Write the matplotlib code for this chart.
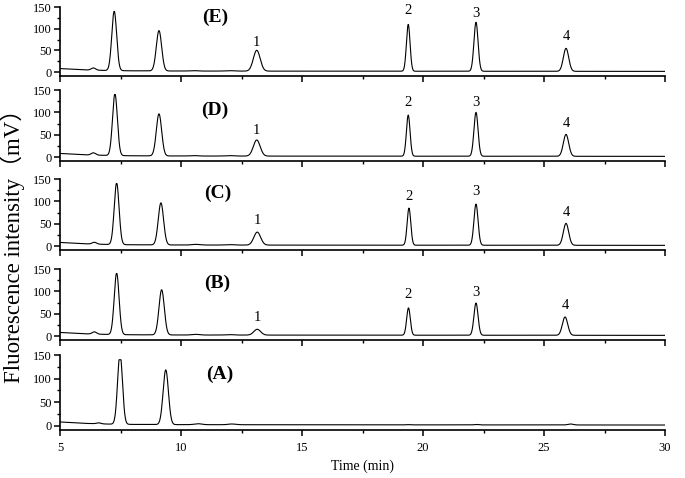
import matplotlib.pyplot as plt
import numpy as np
from matplotlib.ticker import MultipleLocator

plt.rcParams['font.family'] = ['Liberation Serif', 'Noto Sans CJK SC']

# 패널 이름 (위에서 아래로)
panel_names = ["(E)", "(D)", "(C)", "(B)", "(A)"]

# 피크 머무름 시간 (min): 작은피크, 주피크1, 주피크2, 잡음, 잡음, 1, 2, 3, 4
times_E = [6.38, 7.24, 9.09, 10.5, 12.0, 13.13, 19.39, 22.19, 25.91]
times_D = [6.38, 7.27, 9.09, 10.5, 12.0, 13.13, 19.39, 22.19, 25.91]
times_C = [6.42, 7.34, 9.17, 10.6, 12.0, 13.15, 19.42, 22.19, 25.91]
times_B = [6.42, 7.34, 9.20, 10.6, 12.0, 13.15, 19.40, 22.19, 25.87]
times_A = [6.60, 7.48, 9.37, 10.7, 12.1, 13.15, 19.40, 22.20, 26.10]

# 피크 높이 (mV, 기준선 위)
heights_E = [5, 137, 93, 1.0, 1.0, 48, 108, 113, 53]
heights_D = [5, 138, 94, 1.0, 1.0, 36, 92, 98, 49]
heights_C = [4, 138, 94, 1.5, 1.0, 29, 83, 92, 49]
heights_B = [5, 138, 101, 1.5, 1.0, 13, 61, 72, 41]
heights_A = [2, 150, 116, 2.0, 1.5, 0, 0.5, 1.0, 2.0]

# 피크 폭 (sigma, min)
widths = [0.09, 0.10, 0.11, 0.15, 0.15, 0.14, 0.075, 0.085, 0.11]

# 기준선 (드리프트)
base_t = [5, 5.5, 6, 7, 8, 10, 15, 30]
base_v = [8, 6.5, 5, 3.5, 2.8, 2.3, 2.0, 1.5]

# 피크 번호 라벨 높이
label_y_E = [69, 143, 136, 81]
label_y_D = [60, 121, 123, 74]
label_y_C = [58, 110, 123, 74]
label_y_B = [42, 92, 98, 69]
label_y_A = None

peak_numbers = ["1", "2", "3", "4"]
name_xy = [(11.4, 125), (11.4, 105), (11.5, 118), (11.5, 118), (11.6, 108)]

saturation = 140  # 검출기 포화

all_times = [times_E, times_D, times_C, times_B, times_A]
all_heights = [heights_E, heights_D, heights_C, heights_B, heights_A]
all_labels = [label_y_E, label_y_D, label_y_C, label_y_B, label_y_A]

t = np.linspace(5, 30, 3001)

fig = plt.figure(figsize=(6.85, 4.78), dpi=100)
W, H = 685, 478
left_px, right_px = 60, 665
# 각 패널 (상단, 하단) 픽셀
rows_px = [(7, 75.5), (90, 160.6), (179, 249.6), (269, 339.6), (355, 429.5)]

for i, (top, bot) in enumerate(rows_px):
    ax = fig.add_axes([left_px / W, 1 - bot / H, (right_px - left_px) / W, (bot - top) / H])
    y = np.interp(t, base_t, base_v)
    for tc, h, w in zip(all_times[i], all_heights[i], widths):
        y = y + h * np.exp(-0.5 * ((t - tc) / w) ** 2)
    y = np.minimum(y, saturation)
    ax.plot(t, y, color="black", linewidth=0.8)

    ax.set_xlim(5, 30)
    ax.set_ylim(-8, 150)
    ax.set_yticks([0, 50, 100, 150])
    ax.yaxis.set_minor_locator(MultipleLocator(25))
    ax.set_xticks([5, 10, 15, 20, 25, 30])
    ax.xaxis.set_minor_locator(MultipleLocator(2.5))
    ax.spines["top"].set_visible(False)
    ax.spines["right"].set_visible(False)
    ax.spines["left"].set_linewidth(1.2)
    ax.spines["bottom"].set_linewidth(1.2)
    ax.tick_params(which="major", direction="out", length=4, width=1.1, labelsize=9, pad=2)
    ax.tick_params(which="minor", direction="out", length=2.5, width=1.0)
    if i < 4:
        ax.tick_params(axis="x", labelbottom=False)
    else:
        ax.tick_params(axis="x", pad=5)
        ax.set_xlabel("Time (min)", fontsize=10, labelpad=4)

    ax.text(name_xy[i][0], name_xy[i][1], panel_names[i], fontsize=14,
            fontweight="bold", ha="center", va="center")

    if all_labels[i] is not None:
        for num, tc, ly in zip(peak_numbers, all_times[i][5:], all_labels[i]):
            ax.text(tc, ly, num, fontsize=10.5, ha="center", va="center")

fig.text(13 / W, 1 - 240 / H, "Fluorescence intensity（mV）", rotation=90,
         fontsize=16.5, ha="center", va="center")

fig.savefig("out.png", dpi=100)
